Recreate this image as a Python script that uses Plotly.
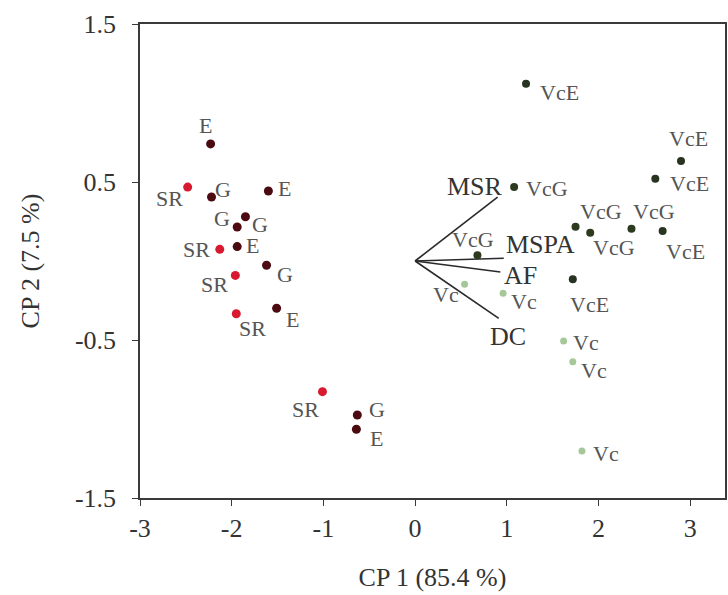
import plotly.graph_objects as go

# PCA scores (CP1, CP2) for each sample and its treatment code
pc1 = [-2.23, -2.48, -2.22, -1.60, -1.85, -1.94, -2.13, -1.94, -1.62, -1.96,
       -1.95, -1.51, -1.01, -0.63, -0.64,
       1.21, 1.08, 2.90, 2.62, 1.75, 1.91, 2.36, 2.70, 1.72, 0.68,
       0.54, 0.96, 1.62, 1.72, 1.82]
pc2 = [0.741, 0.468, 0.405, 0.443, 0.280, 0.215, 0.074, 0.091, -0.027, -0.091,
       -0.334, -0.299, -0.827, -0.975, -1.065,
       1.122, 0.468, 0.633, 0.521, 0.217, 0.179, 0.204, 0.190, -0.116, 0.036,
       -0.147, -0.204, -0.506, -0.637, -1.203]
labels = ["E", "SR", "G", "E", "G", "G", "SR", "E", "G", "SR",
          "SR", "E", "SR", "G", "E",
          "VcE", "VcG", "VcE", "VcE", "VcG", "VcG", "VcG", "VcE", "VcE", "VcG",
          "Vc", "Vc", "Vc", "Vc", "Vc"]

# Variable loadings drawn as vectors from the origin
var_names = ["MSR", "MSPA", "AF", "DC"]
load_x = [0.90, 0.967, 0.93, 0.913]
load_y = [0.405, 0.017, -0.07, -0.363]

# Axis ticks
x_ticks = [-3, -2, -1, 0, 1, 2, 3]
y_ticks = [-1.5, -0.5, 0.5, 1.5]

# --- styling ---
group_colors = {
    "SR": "#d81a30",
    "G": "#4e0a12",
    "E": "#4a0a10",
    "VcG": "#2c3a20",
    "VcE": "#283420",
    "Vc": "#a6c898",
}
group_sizes = {"SR": 9, "G": 9, "E": 9, "VcG": 8, "VcE": 8, "Vc": 7}
# label placement around each point (pixels, +y is up)
label_offsets = [(-5, 18), (-18, -11), (11, 8), (16, 3), (15, -8), (-15, 9),
                 (-23, 0), (15, 1), (18, -9), (-21, -9), (16, -15), (16, -11),
                 (-17, -18), (20, 6), (20, -9),
                 (33, -9), (33, -1), (8, 22), (34, -5), (25, 15), (24, -15),
                 (23, 17), (23, -21), (17, -25), (-4, 16),
                 (-19, -10), (21, -8), (22, -2), (21, -9), (24, -2)]
vector_label_offsets = [(-23, 11), (37, 14), (20, -3), (9, -18)]

SERIF = "Liberation Serif, Times New Roman, serif"

fig = go.Figure()

# loading vectors
vx, vy = [], []
for x, y in zip(load_x, load_y):
    vx += [0, x, None]
    vy += [0, y, None]
fig.add_trace(go.Scatter(x=vx, y=vy, mode="lines",
                         line=dict(color="#2a2a2a", width=1.6),
                         hoverinfo="skip", showlegend=False))

# score points, one trace per treatment group
for grp in ["Vc", "VcG", "VcE", "SR", "G", "E"]:
    idx = [i for i, lab in enumerate(labels) if lab == grp]
    fig.add_trace(go.Scatter(
        x=[pc1[i] for i in idx], y=[pc2[i] for i in idx], mode="markers",
        marker=dict(color=group_colors[grp], size=group_sizes[grp],
                    line=dict(width=0)),
        name=grp, showlegend=False))

annotations = []
for x, y, lab, (dx, dy) in zip(pc1, pc2, labels, label_offsets):
    annotations.append(dict(x=x, y=y, text=lab, showarrow=False,
                            xshift=dx, yshift=dy,
                            font=dict(family=SERIF, size=22, color="#555555")))
for x, y, name, (dx, dy) in zip(load_x, load_y, var_names, vector_label_offsets):
    annotations.append(dict(x=x, y=y, text=name, showarrow=False,
                            xshift=dx, yshift=dy,
                            font=dict(family=SERIF, size=26, color="#333333")))

axis_common = dict(showgrid=False, zeroline=False, showline=True,
                   linecolor="#3a3a3a", linewidth=1.5, mirror=True,
                   ticks="outside", ticklen=6, tickwidth=1.2,
                   tickcolor="#3a3a3a",
                   tickfont=dict(family=SERIF, size=26, color="#333333"))

fig.update_layout(
    width=728, height=595,
    margin=dict(l=140, r=1, t=24, b=97),
    paper_bgcolor="white", plot_bgcolor="white",
    xaxis=dict(range=[-3, 3.38], tickvals=x_ticks,
               ticktext=[str(v) for v in x_ticks],
               title=dict(text="CP 1 (85.4 %)", standoff=26,
                          font=dict(family=SERIF, size=26, color="#333333")),
               **axis_common),
    yaxis=dict(range=[-1.5, 1.5], tickvals=y_ticks,
               ticktext=[str(v) for v in y_ticks],
               ticklabelstandoff=11,
               title=dict(text="CP 2 (7.5 %)", standoff=28,
                          font=dict(family=SERIF, size=26, color="#333333")),
               **axis_common),
    annotations=annotations,
)

fig.write_html("out.html")
